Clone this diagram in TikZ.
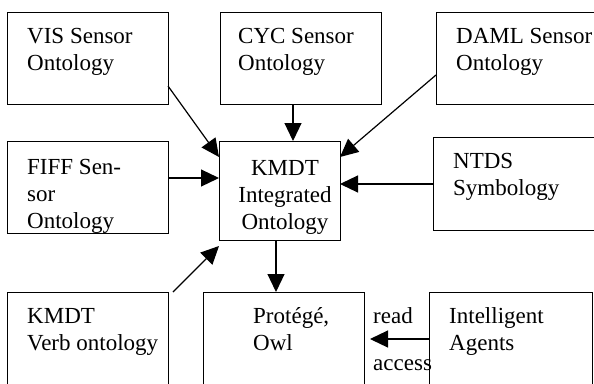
\documentclass[tikz,border=0pt]{standalone}
\usepackage{fontspec}
\setmainfont{Liberation Serif}
\usetikzlibrary{arrows.meta}
\begin{document}
\begin{tikzpicture}[x=1pt,y=-1pt,
  box/.style={draw, line width=1.2pt, anchor=north west, inner sep=0pt},
  txt/.style={anchor=base west, inner sep=0pt, align=left, font=\fontsize{23}{27}\selectfont},
  arr/.style={line width=1.2pt, -{Triangle[length=18pt,width=17pt]}}]
\useasboundingbox (0,0) rectangle (594,383);
\clip (0,0) rectangle (594,383);
\fill[white] (0,0) rectangle (594,383);
% boxes
\node[box, minimum width=161pt, minimum height=92pt] (vis) at (7,12) {};
\node[box, minimum width=161pt, minimum height=92pt] (cyc) at (220,12) {};
\node[box, minimum width=170pt, minimum height=92pt] (daml) at (436,12) {};
\node[box, minimum width=161pt, minimum height=92pt] (fiff) at (7,141) {};
\node[box, minimum width=121pt, minimum height=99pt] (kmdt) at (219,141) {};
\node[box, minimum width=170pt, minimum height=93pt] (ntds) at (433,137) {};
\node[box, minimum width=161pt, minimum height=100pt] (verb) at (7,292) {};
\node[box, minimum width=161pt, minimum height=100pt] (prot) at (203,292) {};
\node[box, minimum width=163pt, minimum height=100pt] (agents) at (429,292) {};
% texts (anchor = baseline of last line)
\node[txt] (tvis) at (27,70) {VIS Sensor\\Ontology};
\node[txt] (tcyc) at (238,70) {CYC Sensor\\Ontology};
\node[txt] (tdaml) at (456,70) {DAML Sensor\\Ontology};
\node[txt] (tfiff) at (27,228) {FIFF Sen-\\sor\\Ontology};
\node[txt, anchor=base, align=center] (tkmdt) at (285,229) {KMDT\\Integrated\\Ontology};
\node[txt] (tntds) at (453,195) {NTDS\\Symbology};
\node[txt] (tverb) at (27,350) {KMDT\\Verb ontology};
\node[txt] (tprot) at (253,350) {Protégé,\\Owl};
\node[txt] (tagents) at (449,350) {Intelligent\\Agents};
\node[txt] (tread) at (373,323) {read};
\node[txt] (taccess) at (373,370) {access};
% connector end points
\coordinate (p1) at (168,86);  \coordinate (q1) at (219,157);
\coordinate (p2) at (293,104); \coordinate (q2) at (293,141);
\coordinate (p3) at (436,75);  \coordinate (q3) at (340,157);
\coordinate (p4) at (168,178); \coordinate (q4) at (219,178);
\coordinate (p5) at (433,184); \coordinate (q5) at (340,184);
\coordinate (p6) at (173,292); \coordinate (q6) at (219,246);
\coordinate (p7) at (276,240); \coordinate (q7) at (276,292);
\coordinate (p8) at (429,339); \coordinate (q8) at (370,339);
\draw[arr] (p1) -- (q1);
\draw[arr] (p2) -- (q2);
\draw[arr] (p3) -- (q3);
\draw[arr] (p4) -- (q4);
\draw[arr] (p5) -- (q5);
\draw[arr] (p6) -- (q6);
\draw[arr] (p7) -- (q7);
\draw[arr] (p8) -- (q8);
\end{tikzpicture}
\end{document}
